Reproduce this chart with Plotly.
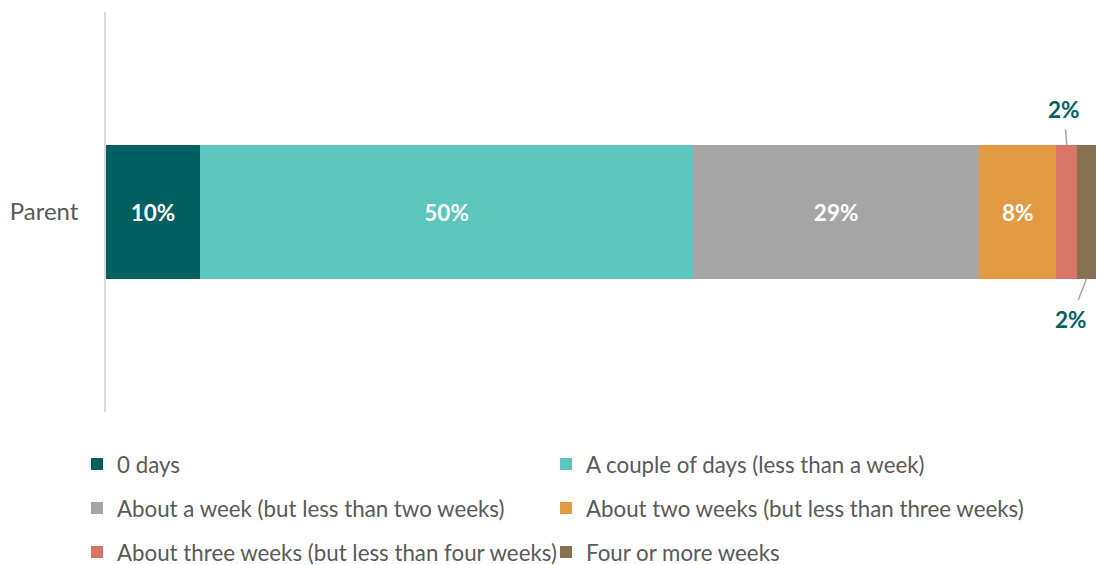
import plotly.graph_objects as go

categories = ["Parent"]
series_names = [
    "0 days",
    "A couple of days (less than a week)",
    "About a week (but less than two weeks)",
    "About two weeks (but less than three weeks)",
    "About three weeks (but less than four weeks)",
    "Four or more weeks",
]
series_values = [9.5, 49.8, 28.9, 7.8, 2.1, 1.9]
colors = ["#005F61", "#5BC5BE", "#A5A5A5", "#E49A43", "#D97567", "#86704F"]
inside_label = [True, True, True, True, False, False]

FONT = "Lato, 'Open Sans', sans-serif"
TXT = "#595959"

legend_ids = ["legend", "legend2", "legend3", "legend4", "legend5", "legend6"]

fig = go.Figure()
for name, val, col, inside, lg in zip(series_names, series_values, colors, inside_label, legend_ids):
    fig.add_trace(go.Bar(
        y=categories, x=[val], name=name, orientation="h",
        marker=dict(color=col, line=dict(width=0)),
        text=[f"{round(val)}%"] if inside else None,
        textposition="inside", insidetextanchor="middle",
        textfont=dict(color="white", size=22.5, family=FONT, weight="bold"),
        width=0.333, legend=lg,
    ))

# outside labels for the small segments
cum = 0
lefts = []
for v in series_values:
    lefts.append(cum)
    cum += v
ann = [
    dict(
        x=lefts[4] + series_values[4] / 2, y=0.1665, xref="x", yref="y",
        text=f"<b>{round(series_values[4])}%</b>", showarrow=True, arrowhead=0,
        arrowwidth=1.5, arrowcolor="#A5A5A5", ax=-3, ay=-36, startstandoff=5,
        font=dict(color="#005F61", size=22.5, family=FONT),
    ),
    dict(
        x=lefts[5] + series_values[5] / 2, y=-0.1665, xref="x", yref="y",
        text=f"<b>{round(series_values[5])}%</b>", showarrow=True, arrowhead=0,
        arrowwidth=1.5, arrowcolor="#A5A5A5", ax=-16, ay=41, startstandoff=5,
        font=dict(color="#005F61", size=22.5, family=FONT),
    ),
]

plot_l, plot_r = 106, 1096
plot_top, plot_bot = 12, 412
def px(p):
    return (p - plot_l) / (plot_r - plot_l)
def py(p):
    return (plot_bot - p) / (plot_bot - plot_top)

# legend grid: (text-left x - 40 px, row centre y)
col_x = [px(77), px(546)]
row_y = [py(464), py(508), py(552)]

legends = {}
for i, lg in enumerate(legend_ids):
    legends[lg] = dict(
        orientation="h", x=col_x[i % 2], xanchor="left",
        y=row_y[i // 2], yanchor="middle",
        font=dict(size=22.3, color=TXT, family=FONT), itemwidth=30,
        bgcolor="rgba(0,0,0,0)",
    )

fig.update_layout(
    barmode="stack",
    width=1097, height=565,
    margin=dict(l=plot_l, r=1097 - plot_r, t=plot_top, b=565 - plot_bot, autoexpand=False),
    paper_bgcolor="white", plot_bgcolor="white",
    font=dict(family=FONT, color=TXT, size=20),
    annotations=ann,
    showlegend=True,
    xaxis=dict(range=[0, 100], visible=False, fixedrange=True),
    yaxis=dict(range=[-0.5, 0.5], showline=True, linecolor="#D9D9D9", linewidth=1.5,
               ticks="", ticklabelstandoff=21, showgrid=False, zeroline=False,
               fixedrange=True, tickfont=dict(size=24, color=TXT)),
    **legends,
)
fig.write_html("out.html", config={"displayModeBar": False},
               post_script="document.body.style.margin='0';")
